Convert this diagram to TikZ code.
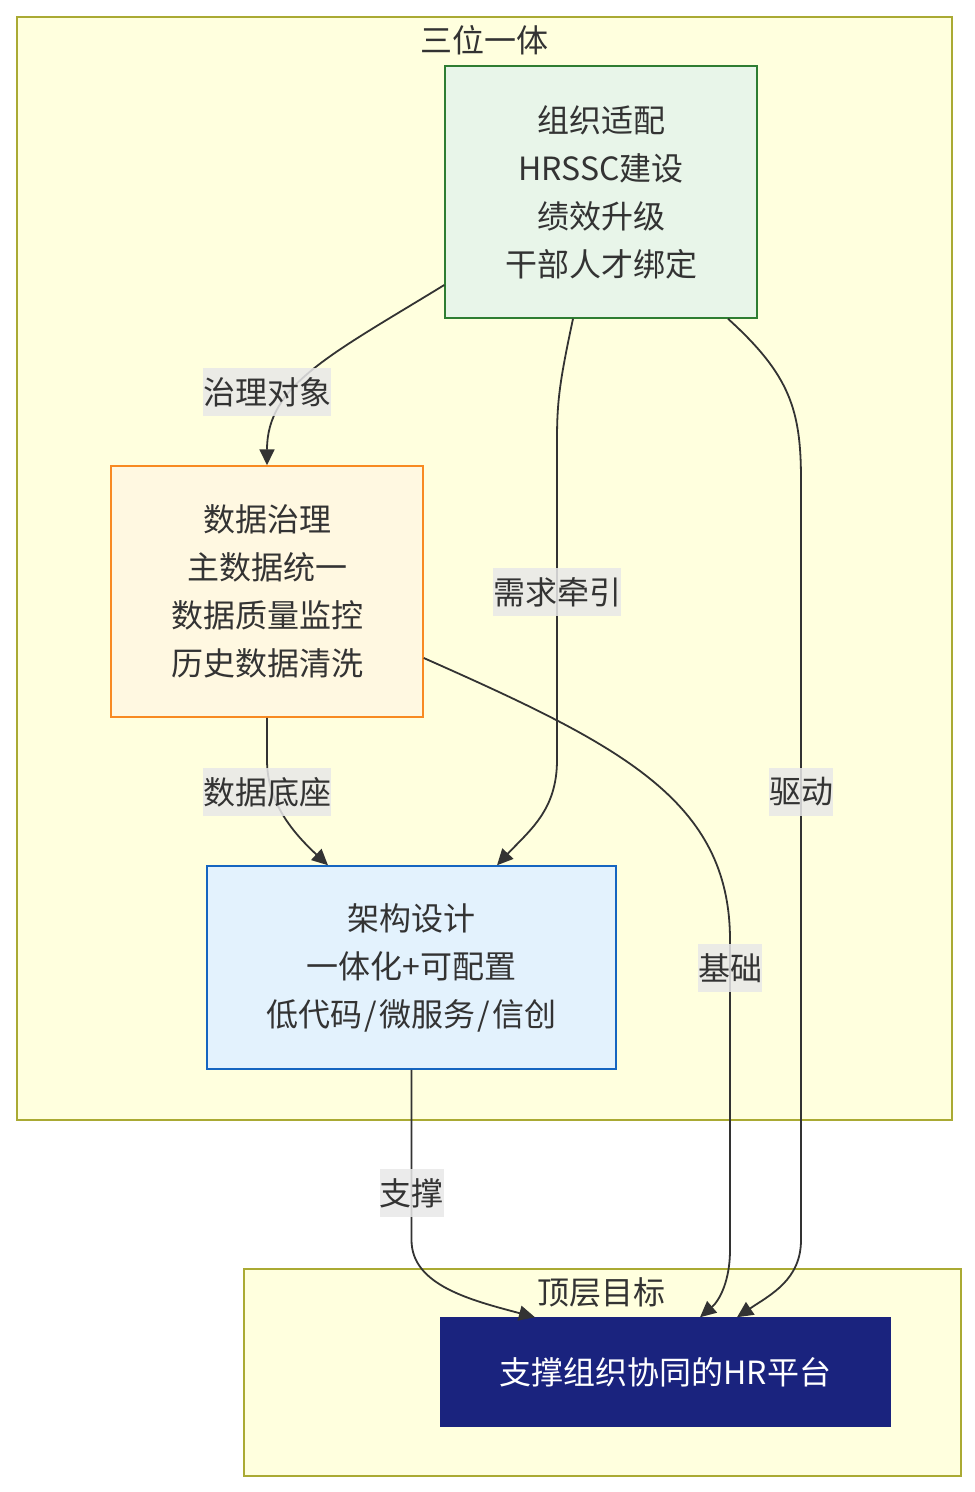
\documentclass[tikz,border=0pt]{standalone}
\usepackage{fontspec}
\newfontfamily\cjk{Noto Sans CJK SC}
\usetikzlibrary{arrows.meta,calc}
\definecolor{clfill}{HTML}{FFFFDE}
\definecolor{cldraw}{HTML}{AAAA33}
\definecolor{gfill}{HTML}{E8F5E9}
\definecolor{gdraw}{HTML}{2E7D32}
\definecolor{ofill}{HTML}{FFF8E1}
\definecolor{odraw}{HTML}{F88A22}
\definecolor{bfill}{HTML}{E3F2FD}
\definecolor{bdraw}{HTML}{1565C0}
\definecolor{tfill}{HTML}{1A237E}
\definecolor{txt}{HTML}{333333}
\definecolor{lblbg}{HTML}{E8E8E8}
\tikzset{
  x=1pt,y=-1pt,
  every node/.style={font=\cjk\fontsize{32}{48}\selectfont, text=txt},
  cluster/.style={draw=cldraw, fill=clfill, line width=1.5pt, inner sep=0, anchor=north west},
  box/.style={draw, line width=1.5pt, inner sep=0, align=center},
  conn/.style={draw=txt, line width=1.8pt, -{Triangle[length=16pt,width=15pt]}},
  lbl/.style={fill=lblbg, fill opacity=0.85, text opacity=1, inner sep=0pt, minimum height=48pt},
  ttl/.style={inner sep=0pt},
}
\begin{document}
\begin{tikzpicture}
\useasboundingbox (0,0) rectangle (975,1492);
% clusters
\node[cluster, minimum width=935pt, minimum height=1103pt] (c1) at (16,16) {};
\node[ttl] (c1t) at (484,40) {三位一体};
\node[cluster, minimum width=717pt, minimum height=207pt] (c2) at (243,1268) {};
\node[ttl] (c2t) at (601,1292) {顶层目标};
% nodes
\node[box, draw=gdraw, fill=gfill, minimum width=312pt, minimum height=252pt] (g) at (601,192) {组织适配\\HRSSC建设\\绩效升级\\干部人才绑定};
\node[box, draw=odraw, fill=ofill, minimum width=312pt, minimum height=251pt] (o) at (267,591.5) {数据治理\\主数据统一\\数据质量监控\\历史数据清洗};
\node[box, draw=bdraw, fill=bfill, minimum width=409pt, minimum height=203pt] (b) at (411.5,967.5) {架构设计\\一体化+可配置\\低代码 \kern-5pt/\kern-5pt{} 微服务 \kern-5pt/\kern-5pt{} 信创};
\node[box, draw=tfill, fill=tfill, text=white, minimum width=449pt, minimum height=108pt] (t) at (665.5,1372) {支撑组织协同的HR平台};
% connectors
\draw[conn] ([yshift=-93pt]g.west) .. controls (330,355) and (267,385) .. (o.north);
\draw[conn] ([xshift=-28pt]g.south) .. controls (560,380) and (557,400) .. (557,440) -- (557,760) .. controls (557,810) and (530,830) .. ([xshift=85.5pt]b.north);
\draw[conn] ([xshift=127pt]g.south) .. controls (790,375) and (801,410) .. (801,480) -- (801,1240) .. controls (801,1280) and (770,1295) .. ([xshift=71.5pt]t.north);
\draw[conn] ([yshift=-66.5pt]o.east) .. controls (620,745) and (730,800) .. (730,940) -- (730,1250) .. controls (730,1280) and (720,1300) .. ([xshift=34.5pt]t.north);
\draw[conn] (o.south) -- (267,760) .. controls (267,800) and (290,830) .. ([xshift=-83.5pt]b.north);
\draw[conn] (b.south) -- (411.5,1240) .. controls (411.5,1285) and (470,1300) .. ([xshift=-130.5pt]t.north);
% labels
\node[lbl] (l1) at (267,392) {治理对象};
\node[lbl] (l2) at (557,592) {需求牵引};
\node[lbl] (l3) at (801,792) {驱动};
\node[lbl] (l4) at (730,968) {基础};
\node[lbl] (l5) at (267,792) {数据底座};
\node[lbl] (l6) at (411.5,1193) {支撑};
\end{tikzpicture}
\end{document}
